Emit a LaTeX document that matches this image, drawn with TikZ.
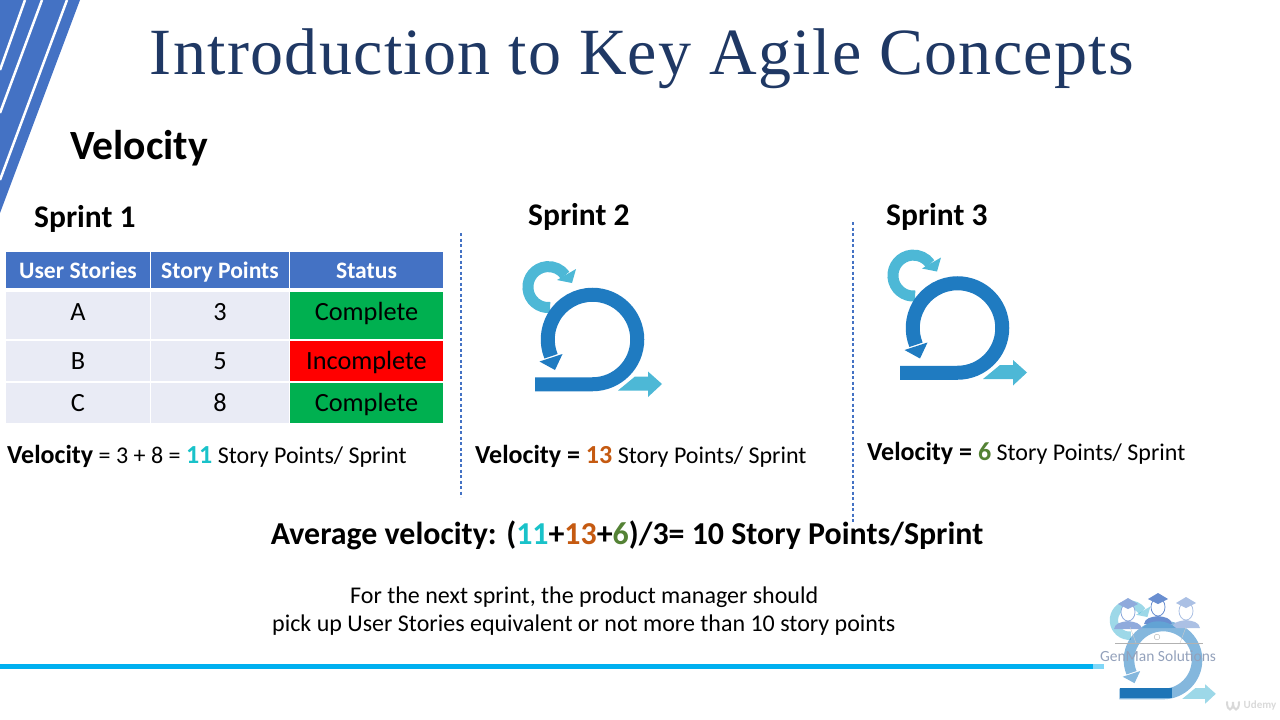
\documentclass[tikz,border=0pt]{standalone}
\usepackage{fontspec}
\setmainfont{Carlito}
\newfontfamily\titlefont[LetterSpace=2.0]{Liberation Serif}
\definecolor{stripeblue}{HTML}{4472C4}
\definecolor{titleblue}{HTML}{1F3864}
\definecolor{cellblue}{HTML}{E9EBF5}
\definecolor{okgreen}{HTML}{00B050}
\definecolor{ringblue}{HTML}{1F7BC1}
\definecolor{loopblue}{HTML}{4DB8D6}
\definecolor{lineblue}{HTML}{00B0F0}
\definecolor{numcyan}{HTML}{19C2C9}
\definecolor{numorange}{HTML}{C55A11}
\definecolor{numgreen}{HTML}{548235}
\newcommand{\velbold}[1]{{\fontsize{26}{29}\selectfont\bfseries #1}}
\tikzset{
  txt/.style={inner sep=0pt, anchor=base west},
  head/.style={fill=stripeblue, text=white, inner sep=0pt, text height=18pt, text depth=2pt, font=\fontsize{23.6}{28}\selectfont\bfseries},
  cell/.style={fill=cellblue, inner sep=0pt, font=\fontsize{26.3}{30}\selectfont},
  stat/.style={inner sep=0pt, font=\fontsize{26.3}{30}\selectfont},
  divider/.style={stripeblue, dash pattern=on 3pt off 2.5pt, line width=1.2pt},
  velocity/.style={txt, font=\fontsize{24}{29}\selectfont},
  sprint/.style={txt, font=\fontsize{31.5}{36}\selectfont\bfseries},
  pics/scrumlogo/.style={code={
    \draw[loopblue, line width=#1*11pt] (-42.3,-32) arc (85:325:20.5);
    \fill[loopblue] (-16.5,-70.5) -- (-20.5,-56.5) -- (-35.5,-59.5) -- cycle;
    \draw[ringblue, line width=#1*14pt] (-57.5,44.75) -- (0,44.75) arc (90:-202:44.75);
    \fill[ringblue] (-53,22) -- (-30,14.5) -- (-37.5,30.5) -- cycle;
    \fill[loopblue] (25.5,51) -- (42.5,37) -- (55.5,37) -- (55.5,32) -- (69.5,44.5)
      -- (55.5,57.5) -- (55.5,51) -- cycle;
  }},
  pics/scrumlogo/.default=1,
  pics/student/.style={code={
    \fill[#1] (-14,17) .. controls (-13,11) and (-7,10) .. (0,9) .. controls (7,10) and (13,11) .. (14,17) -- cycle;
    \fill[white] (0,0) ellipse (7 and 9);
    \draw[#1, line width=0.8pt] (0,0) ellipse (7 and 9);
    \fill[#1] (-10,-8) -- (0,-14) -- (10,-8) -- (0,-3) -- cycle;
  }}
}
\begin{document}
\begin{tikzpicture}[x=1pt, y=-1pt]
\useasboundingbox (0, 0) rectangle (1280, 720);

% corner stripes
\fill[stripeblue] (0, 0) -- (80, 0) -- (0, 213) -- cycle;
\draw[white, line width=2.5pt] (25, 0) -- (0, 70);
\draw[white, line width=2.5pt] (42, 0) -- (0, 113);
\draw[white, line width=2.5pt] (67, 0) -- (0, 180);

\node[inner sep=0pt, anchor=base, text=titleblue, font=\fontsize{66}{70}\titlefont] (title) at (642, 74) {Introduction to Key Agile Concepts};
\node[txt, font=\fontsize{41.6}{48}\selectfont\bfseries] (topic) at (70, 159) {Velocity};

\node[sprint] (sprintone) at (34, 227) {Sprint 1};
\node[sprint] (sprinttwo) at (528, 225) {Sprint 2};
\node[sprint] (sprintthree) at (886, 225) {Sprint 3};

% table
\node[head, minimum width=144pt, minimum height=36pt] (hstories) at (78, 270) {User Stories};
\node[head, minimum width=138pt, minimum height=36pt] (hpoints) at (220, 270) {Story Points};
\node[head, minimum width=153pt, minimum height=36pt] (hstatus) at (366.5, 270) {Status};

\node[cell, minimum width=144pt, minimum height=47pt] (sa) at (78, 315.5) {};
\node[cell, minimum width=138pt, minimum height=47pt] (pa) at (220, 315.5) {};
\node[stat, fill=okgreen, minimum width=153pt, minimum height=47pt] (ca) at (366.5, 315.5) {};
\node[cell, minimum width=144pt, minimum height=40pt] (sb) at (78, 361) {};
\node[cell, minimum width=138pt, minimum height=40pt] (pb) at (220, 361) {};
\node[stat, fill=red, minimum width=153pt, minimum height=40pt] (cb) at (366.5, 361) {};
\node[cell, minimum width=144pt, minimum height=40pt] (sc) at (78, 403) {};
\node[cell, minimum width=138pt, minimum height=40pt] (pc) at (220, 403) {};
\node[stat, fill=okgreen, minimum width=153pt, minimum height=40pt] (cc) at (366.5, 403) {};

\node[cell, fill=none, anchor=base] at (78, 320) {A};
\node[cell, fill=none, anchor=base] at (220, 320) {3};
\node[stat, anchor=base] at (366.5, 320) {Complete};
\node[cell, fill=none, anchor=base] at (78, 369) {B};
\node[cell, fill=none, anchor=base] at (220, 369) {5};
\node[stat, anchor=base] at (366.5, 369) {Incomplete};
\node[cell, fill=none, anchor=base] at (78, 411) {C};
\node[cell, fill=none, anchor=base] at (220, 411) {8};
\node[stat, anchor=base] at (366.5, 411) {Complete};

\node[velocity] (velone) at (7, 463) {\velbold{Velocity} = 3 + 8 = \velbold{\textcolor{numcyan}{11}} Story Points/ Sprint};
\node[velocity] (veltwo) at (475, 463) {\velbold{Velocity = \textcolor{numorange}{13}} Story Points/ Sprint};
\node[velocity] (velthree) at (867, 460) {\velbold{Velocity = \textcolor{numgreen}{6}} Story Points/ Sprint};

\draw[divider] (461, 233) -- (461, 497);
\draw[divider] (853, 222) -- (853, 522);

\pic at (592.5, 339.5) {scrumlogo};
\pic at (957.5, 328) {scrumlogo};

\node[inner sep=0pt, anchor=base, font=\fontsize{31.9}{37}\selectfont\bfseries] (average) at (627, 544) {Average velocity: (\textcolor{numcyan}{11}+\textcolor{numorange}{13}+\textcolor{numgreen}{6})/3= 10 Story Points/Sprint};
\node[txt, font=\fontsize{24}{28}\selectfont] (noteone) at (350, 603) {For the next sprint, the product manager should};
\node[txt, font=\fontsize{24}{28}\selectfont] (notetwo) at (272, 631) {pick up User Stories equivalent or not more than 10 story points};

% footer line and logo
\fill[lineblue] (0, 664) rectangle (1093, 669);
\fill[lineblue!50] (1093, 664) rectangle (1104, 669);

\begin{scope}[opacity=0.55]
\pic[scale=0.76] at (1163, 660) {scrumlogo=0.76};
\end{scope}
\fill[ringblue!95!black] (1120, 688) rectangle (1172, 698);
\pic at (1128, 612) {student={stripeblue!60}};
\pic at (1186, 611) {student={stripeblue!45}};
\pic at (1158, 607) {student={stripeblue!80}};
\fill[ringblue!70] (1142, 628) .. controls (1150, 619) and (1166, 619) .. (1176, 628) -- cycle;
\draw[gray!60] (1115, 643) -- (1203, 643);
\draw[gray!40] (1130, 627) -- (1136, 643) (1186, 627) -- (1180, 643);
\node[draw=gray!60, circle, fill=white, inner sep=2pt] (webcam) at (1157, 637) {};
\node[inner sep=0pt, text=stripeblue!45!gray!70, font=\fontsize{15.5}{18}\selectfont] (brand) at (1158, 656) {GenMan Solutions};
\node[inner sep=0pt, text=gray!30, font=\fontsize{11}{13}\selectfont\bfseries] (udemy) at (1260, 705) {Udemy};
\draw[gray!30, line width=2pt, line cap=round] (1227, 702) .. controls (1227, 712) and (1233, 712) .. (1233, 702) .. controls (1233, 712) and (1239, 712) .. (1239, 702);
\end{tikzpicture}
\end{document}
